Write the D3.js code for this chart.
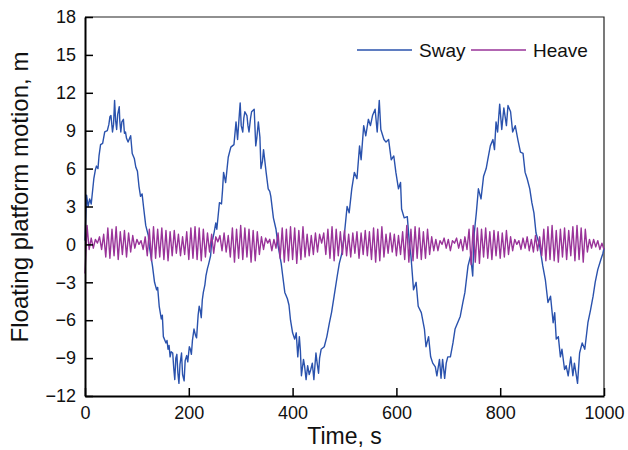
<!DOCTYPE html>
<html>
<head>
<meta charset="utf-8">
<title>Floating platform motion</title>
<script src="https://d3js.org/d3.v7.min.js"></script>
<style>
  body { margin: 0; background: #fff; }
  text { font-family: "Liberation Sans", Arial, sans-serif; fill: #111; }
</style>
</head>
<body>
<div id="chart"></div>
<script>
// sway, time in s, motion in m
var swayT = [0, 3, 6, 9, 12, 17, 20, 22, 25, 27, 30, 34, 38, 43, 46, 48, 50, 53, 55, 57, 59, 61, 63, 66, 67, 69, 71, 74, 76, 78, 80, 83, 86, 88, 91, 95, 98, 101, 104, 107, 110, 113, 115, 117, 122, 124, 127, 130, 134, 138, 140, 143, 147, 149, 151, 156, 158, 160, 162, 164, 166, 169, 171, 173, 175, 177, 179, 181, 183, 186, 188, 191, 193, 196, 198, 201, 203, 205, 207, 210, 213, 215, 218, 220, 222, 224, 226, 228, 231, 233, 236, 238, 242, 244, 246, 249, 252,
  254, 259, 263, 265, 267, 271, 274, 276, 281, 284, 287, 291, 294, 296, 299, 301, 304, 306, 308, 312, 314, 316, 319, 321, 326, 329, 331, 334, 337, 339, 342, 344, 349, 353, 356, 358, 363, 368, 372, 378, 381, 385, 390, 393, 396, 400, 404, 407, 410, 413, 415, 417, 421, 423, 426, 429, 432, 435, 438, 441, 443, 445, 447, 450, 452, 455, 458, 461, 466, 471, 475, 480, 486, 490, 495, 500,
  505, 509, 514, 519, 524, 529, 532, 537, 541, 546, 550, 554, 559, 563, 567, 570, 576, 580, 585, 590, 595, 599, 604, 608, 610, 615, 621, 625, 628, 633, 638, 642, 648, 654, 657, 662, 666, 670, 675, 678, 683, 686, 689, 693, 696, 699, 704, 709, 713, 718, 723, 728, 732, 738, 743, 747, 750, 754,
  758, 763, 768, 773, 776, 781, 786, 789, 792, 795, 799, 803, 807, 812, 815, 820, 824, 829, 834, 839, 844, 848, 852, 857, 861, 865, 869, 876, 882, 887, 892, 897, 902, 905, 908, 912, 916, 919, 924, 927, 931, 936, 940, 943, 949, 953, 958, 963, 969, 974, 979, 983, 988, 994, 998, 1000];
var swayV = [0.3, 3.9, 3.0, 3.6, 3.2, 5.2, 5.9, 6.2, 6.0, 7.0, 7.9, 8.0, 8.9, 9.0, 9.5, 10.1, 10.2, 8.9, 9.5, 11.4, 9.8, 9.1, 10.3, 10.9, 9.8, 8.9, 9.7, 9.9, 8.8, 8.9, 8.4, 8.1, 8.4, 8.6, 7.2, 6.8, 6.1, 5.8, 4.6, 3.8, 4.0, 2.9, 2.2, 1.5, 0.7, -0.2, -0.9, -1.7, -3.0, -3.6, -3.4, -4.9, -5.9, -5.6, -7.3, -7.8, -7.6, -8.3, -8.0, -8.9, -8.5, -8.6, -9.8, -10.7, -9.0, -8.7, -10.2, -11.0, -9.5, -8.6, -10.3, -10.8, -9.2, -8.8, -9.3, -8.1, -8.3, -8.7, -7.6, -6.7, -7.2, -7.4, -5.6, -4.9, -5.2, -5.8, -4.4, -3.8, -3.2, -2.5, -1.9, -1.6, -0.9, 0.2, 0.4, 1.0, 1.7,
  1.2, 3.3, 3.2, 4.3, 5.7, 4.9, 6.1, 6.9, 7.7, 7.8, 7.9, 9.7, 8.3, 9.5, 11.2, 9.4, 8.9, 10.0, 10.5, 10.2, 9.4, 8.9, 10.0, 10.5, 10.7, 7.8, 8.4, 9.7, 8.5, 6.0, 6.6, 7.5, 5.7, 4.4, 4.2, 3.8, 2.1, 1.2, -0.1, -1.5, -2.5, -3.8, -4.3, -4.8, -6.0, -7.0, -7.5, -7.0, -8.9, -7.3, -8.4, -10.4, -9.1, -9.6, -10.7, -9.6, -10.3, -9.9, -9.4, -10.7, -9.6, -8.6, -9.3, -10.2, -9.0, -8.3, -8.2, -8.1, -7.3, -6.2, -5.4, -4.1, -2.5, -1.5, -0.7, 0.9,
  3.0, 2.5, 4.4, 5.7, 5.2, 7.8, 6.7, 9.4, 8.6, 9.9, 9.4, 10.2, 10.7, 8.9, 11.4, 9.1, 8.3, 8.1, 8.3, 6.7, 7.0, 5.7, 4.4, 4.9, 2.8, 2.1, 2.2, 0.1, -0.9, -3.6, -3.0, -4.9, -5.4, -6.7, -8.1, -7.3, -8.9, -9.4, -9.7, -10.4, -9.1, -10.6, -9.1, -10.6, -9.4, -8.9, -8.9, -7.8, -6.7, -6.2, -5.7, -4.6, -3.8, -1.7, -0.9, -2.5, 0.9, 2.5,
  4.4, 3.6, 5.4, 6.0, 6.7, 7.8, 8.3, 7.5, 9.7, 8.9, 11.1, 9.1, 10.8, 9.4, 11.0, 10.5, 8.9, 9.4, 8.3, 7.3, 7.2, 5.7, 5.2, 4.4, 3.3, 2.5, 0.9, -0.1, -1.7, -2.8, -4.6, -4.1, -6.2, -5.4, -7.5, -7.3, -8.9, -8.3, -9.9, -9.6, -10.4, -8.9, -10.4, -9.4, -11.0, -8.6, -7.8, -8.3, -6.2, -5.2, -4.1, -3.0, -2.0, -1.2, -0.7, -0.3];

// heave, sampled every 4 s from t = 0
var heaveStep = 4;
var heaveV = [
  -2.3, 1.5, -0.4, 0.5, -0.3, 0.4, 0.1, 0.6, -0.4, 0.8,
  -1.0, 1.3, -1.1, 1.2, -0.9, 1.4, -1.2, 1.0, -0.8, 1.1,
  -1.0, 0.9, -0.6, 0.7, -0.3, 0.4, 0.0, 0.3, -0.4, 0.6,
  -0.9, 1.2, -1.3, 1.4, -1.1, 1.2, -1.0, 1.3, -1.2, 1.1,
  -1.3, 1.0, -0.9, 1.1, -0.7, 0.8, -0.9, 0.6, -0.8, 1.0,
  -1.2, 1.3, -1.1, 1.4, -1.2, 1.3, -1.3, 1.2, -1.0, 0.9,
  -0.6, 0.8, -0.7, 0.6, 0.2, 0.7, -0.5, 0.9, -0.6, 0.7,
  -1.0, 1.3, -1.4, 1.2, -1.1, 1.5, -1.2, 1.3, -1.0, 1.2,
  -1.4, 1.1, -1.3, 1.0, -0.8, 0.6, -0.4, 0.5, 0.1, 0.4,
  -0.5, 0.4, -0.3, 0.9, -1.1, 1.3, -1.4, 1.2, -1.3, 1.4,
  -1.2, 1.3, -1.5, 1.1, -1.2, 1.4, -1.0, 0.8, -0.9, 0.7,
  -0.8, 0.9, -0.6, 0.8, 0.1, 0.9, -0.8, 1.2, -1.1, 1.4,
  -1.3, 1.2, -0.9, 1.0, -0.8, 1.1, -0.9, 0.8, -1.0, 0.9,
  -0.7, 1.0, -1.1, 0.9, -0.8, 1.1, -0.9, 1.0, -1.2, 1.3,
  -1.4, 1.2, -1.3, 1.4, -1.0, 0.8, -0.7, 0.9, -0.6, 0.8,
  -0.9, 0.7, -0.8, 1.0, -1.2, 1.5, -1.4, 1.2, -1.3, 1.4,
  -1.1, 1.3, -1.2, 1.0, -1.1, 1.2, -0.8, 0.6, -0.5, 0.4,
  -0.5, 0.3, 0.0, 0.5, -0.3, 0.4, -0.5, 0.3, 0.1, 0.5,
  -0.3, 0.4, -0.5, 0.6, -0.4, 1.2, -1.6, 1.5, -1.4, 1.3,
  -1.5, 1.2, -1.0, 1.3, -1.1, 1.0, -1.2, 1.1, -0.9, 1.0,
  -1.1, 0.9, -1.0, 1.1, -0.8, 0.6, -0.5, 0.4, 0.0, 0.3,
  -0.4, 0.5, -0.3, 0.6, -0.5, 0.4, -0.6, 0.7, -0.5, 0.6,
  -0.9, 1.2, -1.3, 1.4, -1.2, 1.5, -1.3, 1.1, -1.4, 1.2,
  -1.0, 1.3, -1.2, 1.1, -0.9, 1.4, -1.3, 1.5, -1.2, 1.3,
  -1.4, 1.2, -0.6, 0.4, -0.3, 0.4, -0.2, 0.3, -0.4, 0.1,
  -0.4];

var yTicks = [-12, -9, -6, -3, 0, 3, 6, 9, 12, 15, 18];
var xTicks = [0, 200, 400, 600, 800, 1000];
var seriesNames = ["Sway", "Heave"];
var seriesColors = ["#2a52ad", "#993399"];

var W = 628, H = 450;
var margin = {top: 17, right: 24, bottom: 54, left: 85};
var width = W - margin.left - margin.right,
    height = H - margin.top - margin.bottom;

var svg = d3.select("#chart").append("svg")
    .attr("width", W)
    .attr("height", H);

var g = svg.append("g")
    .attr("transform", "translate(" + margin.left + "," + margin.top + ")");

var x = d3.scaleLinear().domain([0, 1000]).range([0, width]);
var y = d3.scaleLinear().domain([-12, 18]).range([height, 0]);

var sway = swayT.map(function(t, i) { return [t, swayV[i]]; });
var heave = heaveV.map(function(v, i) { return [i * heaveStep, v]; });

var line = d3.line()
    .x(function(d) { return x(d[0]); })
    .y(function(d) { return y(d[1]); });

// top and right frame
g.append("path")
    .attr("d", "M0,0H" + width + "V" + height)
    .attr("fill", "none")
    .attr("stroke", "#222")
    .attr("stroke-width", 1.2);

g.append("path")
    .datum(sway)
    .attr("fill", "none")
    .attr("stroke", seriesColors[0])
    .attr("stroke-width", 1.4)
    .attr("stroke-linejoin", "round")
    .attr("d", line);

g.append("path")
    .datum(heave)
    .attr("fill", "none")
    .attr("stroke", seriesColors[1])
    .attr("stroke-width", 1.4)
    .attr("stroke-linejoin", "round")
    .attr("d", line);

var xAxis = d3.axisBottom(x).tickValues(xTicks).tickFormat(d3.format("d"))
    .tickSizeInner(-8).tickSizeOuter(0).tickPadding(10);
var yAxis = d3.axisLeft(y).tickValues(yTicks)
    .tickSizeInner(-8).tickSizeOuter(0).tickPadding(9);

var gx = g.append("g")
    .attr("transform", "translate(0," + height + ")")
    .call(xAxis);
var gy = g.append("g").call(yAxis);

[gx, gy].forEach(function(a) {
  a.select(".domain").attr("stroke", "#000").attr("stroke-width", 2);
  a.selectAll(".tick line").attr("stroke", "#000").attr("stroke-width", 1.5);
  a.selectAll(".tick text")
    .style("font-family", "'Liberation Sans', Arial, sans-serif")
    .style("font-size", "18px")
    .attr("fill", "#111");
});

svg.append("text")
    .attr("x", margin.left + width / 2)
    .attr("y", 444)
    .attr("text-anchor", "middle")
    .style("font-size", "23px")
    .text("Time, s");

svg.append("text")
    .attr("transform", "translate(28,197) rotate(-90)")
    .attr("text-anchor", "middle")
    .style("font-size", "24px")
    .text("Floating platform motion, m");

// legend
var legX = [357, 471];
var legend = svg.append("g");
seriesNames.forEach(function(name, i) {
  legend.append("line")
      .attr("x1", legX[i]).attr("x2", legX[i] + 55)
      .attr("y1", 50).attr("y2", 50)
      .attr("stroke", seriesColors[i])
      .attr("stroke-width", 1.4);
  legend.append("text")
      .attr("x", legX[i] + 62)
      .attr("y", 57)
      .style("font-size", "19px")
      .text(name);
});
</script>
</body>
</html>
